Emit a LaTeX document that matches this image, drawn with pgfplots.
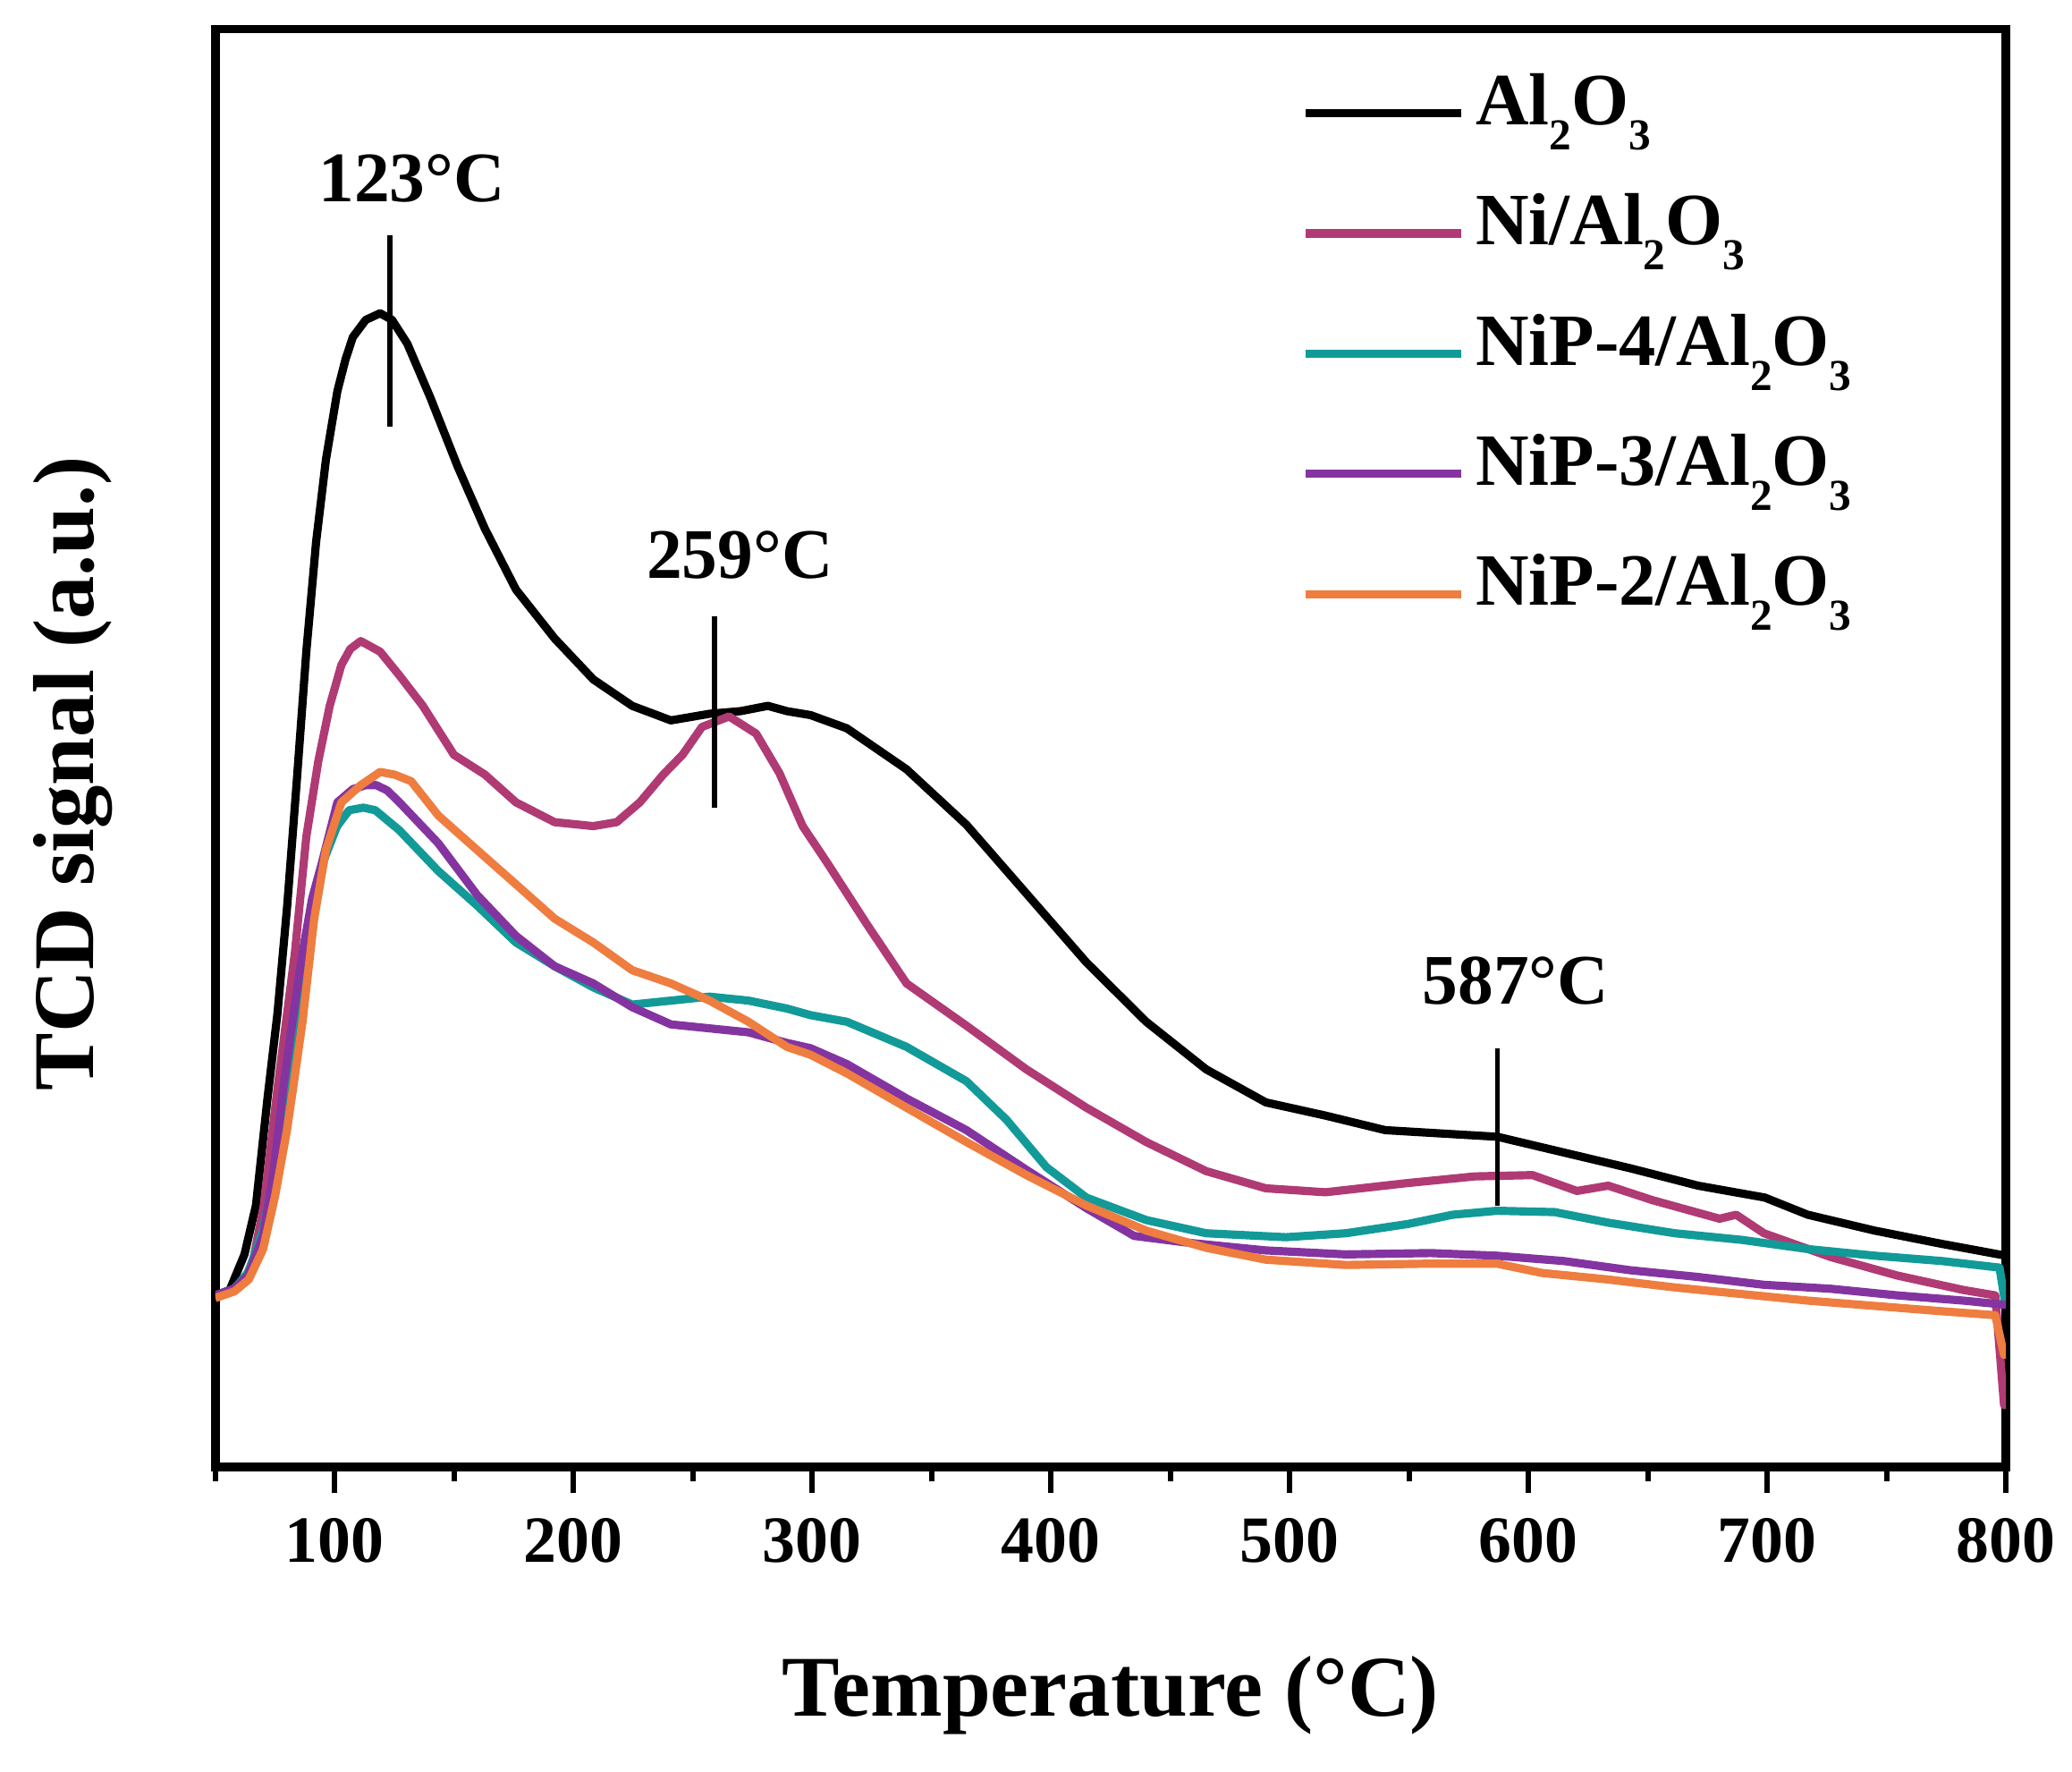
\documentclass[border=0pt]{standalone}
\usepackage{fontspec}
\setmainfont{Liberation Serif}
\usepackage{pgfplots}
\pgfplotsset{compat=1.18}

\definecolor{niAl}{RGB}{176,58,116}
\definecolor{nip4}{RGB}{18,154,152}
\definecolor{nip3}{RGB}{132,52,160}
\definecolor{nip2}{RGB}{238,125,63}

% low, large subscripts as in the original figure
\newcommand{\sub}[1]{\raisebox{-5.5pt}{\fontsize{9.7}{10}\selectfont\bfseries #1}}

\begin{document}
\begin{tikzpicture}
\begin{axis}[
    name=ax,
    at={(0,0)}, anchor=south west,
    width=13.827cm, height=11.102cm, scale only axis,
    xmin=50, xmax=800, ymin=0, ymax=1088,
    xtick={100,200,...,800},
    minor xtick={50,150,...,750},
    ytick=\empty,
    tick align=outside,
    xtick pos=left,
    major tick length=0.2cm,
    minor tick length=0.11cm,
    every tick/.style={black, line width=1.2pt},
    axis line style={line width=1.9pt},
    /pgf/number format/assume math mode=true,
    xticklabel style={font=\fontsize{14.5}{17}\selectfont\bfseries, yshift=-0.07cm},
    xlabel={Temperature (°C)},
    ylabel={TCD signal (a.u.)},
    xlabel style={font=\fontsize{19}{23}\selectfont\bfseries,
        at={(axis description cs:0.5,-0.1728)}, anchor=base},
    ylabel style={font=\fontsize{19}{23}\selectfont\bfseries,
        at={(axis description cs:-0.0679,0.4825)}, anchor=base},
    legend style={draw=none, fill=none,
        at={(axis description cs:0.6062,0.969)}, anchor=north west,
        font=\fontsize{16.2}{19}\selectfont\bfseries,
        row sep=9.4pt, column sep=0.08cm, inner sep=0pt,
        nodes={inner sep=0pt, text height=11pt, text depth=6pt}},
    legend cell align=left,
    legend image code/.code={\draw[#1, line width=1.8pt] (0cm,0cm) -- (1.2cm,0cm);},
    every axis plot/.append style={line width=1.8pt, line join=round},
]
\addplot[black] coordinates {
(50,130) (56,134) (62.2,161) (67,198) (71.9,280) (76,343) (80.1,425)
(84.1,519) (88.1,617) (92.2,700) (96.3,762) (101.1,814) (104.5,838) (107.6,855)
(113,868) (119,873) (124,868) (130.4,850) (140.1,809) (151.5,757)
(162.9,710) (175.9,664) (192.1,627) (208.3,596) (224.6,576) (240.8,565)
(257,570) (270,572) (281.4,576) (289.4,572) (299.3,569) (314.5,559)
(339.5,528) (364.6,486) (389.7,434) (414.8,382) (439.9,337) (465,301)
(490,276) (515,266) (540,255) (568,252) (587,250) (615,238) (643,226)
(671,213) (699,204) (717,191) (745,179) (773,169) (797,161) (800,160)
};
\addlegendentry{Al\sub{2}O\sub{3}}
\addplot[niAl] coordinates {
(50,130) (56,133) (62.2,141) (66,158) (70.3,198) (76,286) (83.3,389)
(88.1,477) (93.1,534) (97.9,576) (102.8,607) (106.5,619) (110.9,625) (119,617)
(127.1,599) (136.9,576) (149.9,539) (162.9,524) (175.9,503) (192.1,488)
(208.3,485) (218.1,488) (227.8,503) (237.6,524) (245.7,539) (253.8,560)
(265.2,568) (276.5,555) (286.3,525) (296,485) (306,458) (322.8,411)
(339.5,366) (364.6,334) (389.7,301) (414.8,272) (439.9,246) (465,224)
(490,211) (515,208) (549.5,215) (577.5,220) (601.7,221) (620.3,209)
(633.4,213) (652,202) (680,188) (687,191) (698.6,177) (726.6,159)
(754.5,145) (782.4,134) (795.5,130) (799.2,47) (800,47)
};
\addlegendentry{Ni/Al\sub{2}O\sub{3}}
\addplot[nip4] coordinates {
(50,130) (58,135) (64,148) (70,180) (75,225) (79.2,286) (83.5,340)
(87.4,389) (91,430) (96,462) (101,485) (106,497) (112,499) (117,497)
(127,482) (143.4,451) (159.6,425) (175.9,397) (192.1,379) (208.3,363)
(224.6,350) (240.8,353) (257,356) (273.3,353) (289.4,347) (299.3,342)
(314.5,337) (339.5,318) (364.6,292) (381.3,263) (398.1,227) (414.8,204)
(439.9,187) (465,177) (498.4,174) (523.5,177) (549.5,184) (568.2,191)
(586.8,194) (611,193) (633.4,185) (661.3,177) (689.3,172) (717.2,165)
(745.2,160) (773.1,156) (797.3,151) (799.5,126) (800,126)
};
\addlegendentry{NiP-4/Al\sub{2}O\sub{3}}
\addplot[nip3] coordinates {
(50,130) (58,135) (64,146) (70,175) (74.5,225) (78.4,286) (82.5,340)
(86.5,389) (90.5,430) (94.6,457) (101.1,503) (107.6,513) (113,516)
(117.4,516) (122,512) (127.1,503) (143.4,472) (159.6,433) (175.9,402)
(192.1,379) (208.3,366) (224.6,348) (240.8,335) (257,332) (273.3,329)
(289.4,321) (299.3,317) (314.5,305) (339.5,279) (364.6,255) (389.7,225)
(414.8,196) (434.8,175) (456.6,170) (490,164) (523.5,161) (559,162)
(586.8,160) (614.7,156) (642.7,149) (670.7,144) (698.6,138) (726.6,135)
(754.5,130) (782.4,126) (799.2,123) (800,123)
};
\addlegendentry{NiP-3/Al\sub{2}O\sub{3}}
\addplot[nip2] coordinates {
(50,128) (58,133) (64,142) (70,165) (75,205) (80,255) (82.5,286)
(86.5,337) (91.4,415) (96.3,467) (102.8,503) (110.9,516) (119,526)
(125,524) (132,519) (143.4,493) (159.6,467) (175.9,441) (192.1,415)
(208.3,397) (224.6,376) (240.8,366) (257,353) (273.3,337) (289.4,318)
(299.3,312) (314.5,298) (339.5,272) (364.6,246) (389.7,221) (414.8,198)
(439.9,179) (465,166) (490,157) (523.5,153) (559,154) (586.8,154)
(605.5,147) (633.4,142) (661.3,136) (689.3,131) (717.2,126) (745.2,122)
(773.1,118) (795.5,115) (799.2,85) (800,85)
};
\addlegendentry{NiP-2/Al\sub{2}O\sub{3}}

% peak markers
\draw[line width=1.1pt] (axis cs:123,787) -- (axis cs:123,932);
\draw[line width=1.1pt] (axis cs:259,499) -- (axis cs:259,644);
\draw[line width=1.1pt] (axis cs:587,198) -- (axis cs:587,317);
\node[font=\fontsize{15.6}{18}\selectfont\bfseries, inner sep=0pt] at (axis cs:132.3,975) {123°C};
\node[font=\fontsize{15.6}{18}\selectfont\bfseries, inner sep=0pt] at (axis cs:269.7,690) {259°C};
\node[font=\fontsize{15.6}{18}\selectfont\bfseries, inner sep=0pt] at (axis cs:594.6,368) {587°C};
\end{axis}
\pgfresetboundingbox
\path (-1.663,-2.347) rectangle (14.337,11.3265);
\end{tikzpicture}
\end{document}
